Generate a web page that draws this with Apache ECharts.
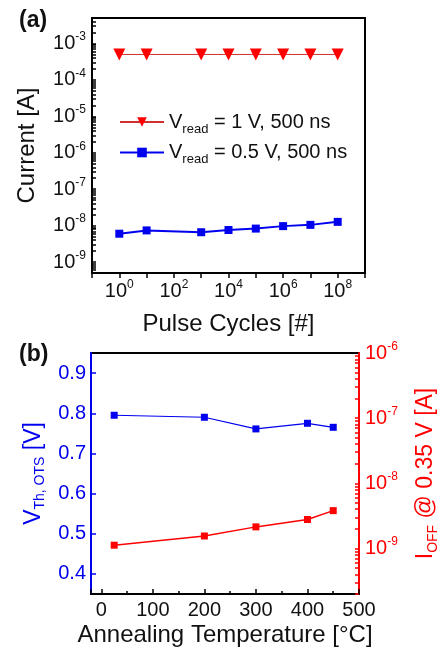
<!DOCTYPE html>
<html>
<head>
<meta charset="utf-8">
<script src="https://cdn.jsdelivr.net/npm/echarts@6/dist/echarts.min.js"></script>
<style>html,body{margin:0;padding:0;background:#fff;}#c{width:442px;height:654px;}</style>
</head>
<body>
<div id="c"></div>
<script>
// Panel (a)
const cycles = [1, 10, 1000, 1e4, 1e5, 1e6, 1e7, 1e8];
const current1V = [5.0e-4, 5.0e-4, 5.0e-4, 5.0e-4, 5.0e-4, 5.0e-4, 5.0e-4, 5.0e-4];
const current05V = [6.0e-9, 7.4e-9, 6.6e-9, 7.6e-9, 8.3e-9, 9.7e-9, 1.05e-8, 1.27e-8];
const legendA = ['= 1 V, 500 ns', '= 0.5 V, 500 ns'];
// Panel (b)
const temps = [25, 200, 300, 400, 450];
const vth = [0.795, 0.790, 0.761, 0.775, 0.765];
const ioff = [1.12e-9, 1.55e-9, 2.14e-9, 2.78e-9, 3.8e-9];
// axis ranges (decades)
const aDecades = [-9.3, -2.3];
const bDecades = [-9.7, -6];

const FONT = 'Liberation Sans, Arial, sans-serif';
const RED = '#ff0000';
const BLUE = '#0000ee';

// log-axis tick positions (1..9 x 10^n) inside a decade range
function logTicks(range) {
  const out = [];
  for (let e = Math.floor(range[0]); e <= Math.ceil(range[1]); e++) {
    for (let m = 1; m <= 9; m++) {
      const v = m * Math.pow(10, e);
      const l = Math.log10(v);
      if (l >= range[0] - 1e-9 && l <= range[1] + 1e-9) out.push(v);
    }
  }
  return out;
}

function sci(v, onlyEven) {
  const l = Math.log10(v);
  const e = Math.round(l);
  if (Math.abs(l - e) > 1e-6) return '';
  if (onlyEven && e % 2 !== 0) return '';
  return '{b|10}{s|' + e + '}';
}
function supRich(color) {
  return {
    b: {fontSize: 20, color: color, fontFamily: FONT},
    s: {fontSize: 12, padding: [0, 0, 13, 0], color: color, fontFamily: FONT}
  };
}
function subRich(color) {
  return {
    m: {fontSize: 23, color: color, fontFamily: FONT},
    sub: {fontSize: 14, padding: [14, 0, 0, 0], color: color, fontFamily: FONT}
  };
}
function pairs(xs, ys) { return xs.map((x, i) => [x, ys[i]]); }

const chart = echarts.init(document.getElementById('c'), null, {renderer: 'canvas'});
chart.setOption({
  backgroundColor: '#fff',
  animation: false,
  title: [
    {text: '(a)', left: 14, top: 4, textStyle: {fontSize: 23, fontWeight: 'bold', fontFamily: FONT, color: '#111'}},
    {text: '(b)', left: 14, top: 338, textStyle: {fontSize: 23, fontWeight: 'bold', fontFamily: FONT, color: '#111'}}
  ],
  grid: [
    {left: 92, top: 18, width: 273, height: 255, outerBoundsMode: 'none', containLabel: false,
      show: true, borderColor: '#000', borderWidth: 2, backgroundColor: 'transparent'},
    {left: 91, top: 353, width: 268, height: 241, outerBoundsMode: 'none', containLabel: false,
      show: true, borderColor: '#000', borderWidth: 2, backgroundColor: 'transparent'}
  ],
  legend: {
    orient: 'vertical',
    left: 114, top: 107,
    itemWidth: 44, itemHeight: 12, itemGap: 7,
    data: ['r1', 'r05'],
    formatter: function (name) {
      const t = name === 'r1' ? legendA[0] : legendA[1];
      return '{v|V}{sub|read}{t| ' + t + '}';
    },
    textStyle: {
      rich: {
        v: {fontSize: 20, fontFamily: FONT, color: '#111'},
        sub: {fontSize: 13, padding: [14, 0, 0, 0], fontFamily: FONT, color: '#111'},
        t: {fontSize: 20, fontFamily: FONT, color: '#111'}
      }
    }
  },
  xAxis: [
    {
      type: 'log', gridIndex: 0, logBase: 10, min: 0.1, max: 1e9, splitNumber: 10, position: 'bottom',
      name: 'Pulse Cycles [#]', nameLocation: 'middle', nameGap: 39,
      nameTextStyle: {fontSize: 24, fontFamily: FONT, color: '#111'},
      axisLine: {show: true, onZero: false, lineStyle: {color: '#000', width: 2}},
      axisTick: {show: true, inside: false, length: 5, lineStyle: {color: '#000', width: 1.5}},
      splitLine: {show: false},
      axisLabel: {margin: 6, formatter: v => sci(v, true), rich: supRich('#111')}
    },
    {
      type: 'value', gridIndex: 1, min: -20, max: 500, splitNumber: 5, position: 'bottom',
      name: 'Annealing Temperature [°C]', nameLocation: 'middle', nameGap: 29,
      nameTextStyle: {fontSize: 24, fontFamily: FONT, color: '#111'},
      axisLine: {show: true, onZero: false, lineStyle: {color: '#000', width: 2}},
      axisTick: {show: true, inside: true, length: 5, lineStyle: {color: '#000', width: 1.5}},
      minorTick: {show: true, splitNumber: 2, length: 3, lineStyle: {color: '#000', width: 1.5}},
      splitLine: {show: false},
      axisLabel: {showMinLabel: false, margin: 6, fontSize: 20, fontFamily: FONT, color: '#111'}
    }
  ],
  yAxis: [
    {
      type: 'log', gridIndex: 0, logBase: 10, position: 'left',
      min: Math.pow(10, aDecades[0]), max: Math.pow(10, aDecades[1]),
      name: 'Current [A]', nameLocation: 'middle', nameGap: 53,
      nameTextStyle: {fontSize: 24, fontFamily: FONT, color: '#111'},
      axisLine: {show: true, onZero: false, lineStyle: {color: '#000', width: 2}},
      axisTick: {show: true, inside: true, length: 4, customValues: logTicks(aDecades), lineStyle: {color: '#000', width: 1.5}},
      splitLine: {show: false},
      axisLabel: {margin: 6, formatter: v => sci(v, false), rich: supRich('#111')}
    },
    {
      type: 'value', gridIndex: 1, min: 0.35, max: 0.95, splitNumber: 6, position: 'left',
      name: '{m|V}{sub|Th, OTS}{m| [V]}', nameLocation: 'middle', nameGap: 38, nameRotate: 90,
      nameTextStyle: {rich: subRich(BLUE)},
      axisLine: {show: true, onZero: false, lineStyle: {color: BLUE, width: 2}},
      axisTick: {show: true, inside: true, length: 5, lineStyle: {color: BLUE, width: 1.5}},
      splitLine: {show: false},
      axisLabel: {showMinLabel: false, showMaxLabel: false, margin: 5, fontSize: 20, fontFamily: FONT, color: BLUE,
        formatter: v => v.toFixed(1)}
    },
    {
      type: 'log', gridIndex: 1, logBase: 10, position: 'right',
      min: Math.pow(10, bDecades[0]), max: Math.pow(10, bDecades[1]),
      name: '{m|I}{sub|OFF}{m| @ 0.35 V [A]}', nameLocation: 'middle', nameGap: 53, nameRotate: 90,
      nameTextStyle: {rich: subRich(RED)},
      axisLine: {show: true, onZero: false, lineStyle: {color: RED, width: 2}},
      axisTick: {show: true, inside: true, length: 4, customValues: logTicks(bDecades), lineStyle: {color: RED, width: 1.5}},
      splitLine: {show: false},
      axisLabel: {margin: 6, formatter: v => sci(v, false), rich: supRich(RED)}
    }
  ],
  series: [
    {
      name: 'r1', type: 'line', xAxisIndex: 0, yAxisIndex: 0,
      data: pairs(cycles, current1V),
      symbol: 'triangle', symbolRotate: 180, symbolSize: 12,
      itemStyle: {color: RED}, lineStyle: {color: '#d03030', width: 1}
    },
    {
      name: 'r05', type: 'line', xAxisIndex: 0, yAxisIndex: 0,
      data: pairs(cycles, current05V),
      symbol: 'rect', symbolSize: 8,
      itemStyle: {color: BLUE}, lineStyle: {color: BLUE, width: 2}
    },
    {
      name: 'vth', type: 'line', xAxisIndex: 1, yAxisIndex: 1,
      data: pairs(temps, vth),
      symbol: 'rect', symbolSize: 7,
      itemStyle: {color: BLUE}, lineStyle: {color: BLUE, width: 1.2}
    },
    {
      name: 'ioff', type: 'line', xAxisIndex: 1, yAxisIndex: 2,
      data: pairs(temps, ioff),
      symbol: 'rect', symbolSize: 7,
      itemStyle: {color: RED}, lineStyle: {color: RED, width: 1.5}
    }
  ]
});
</script>
</body>
</html>
